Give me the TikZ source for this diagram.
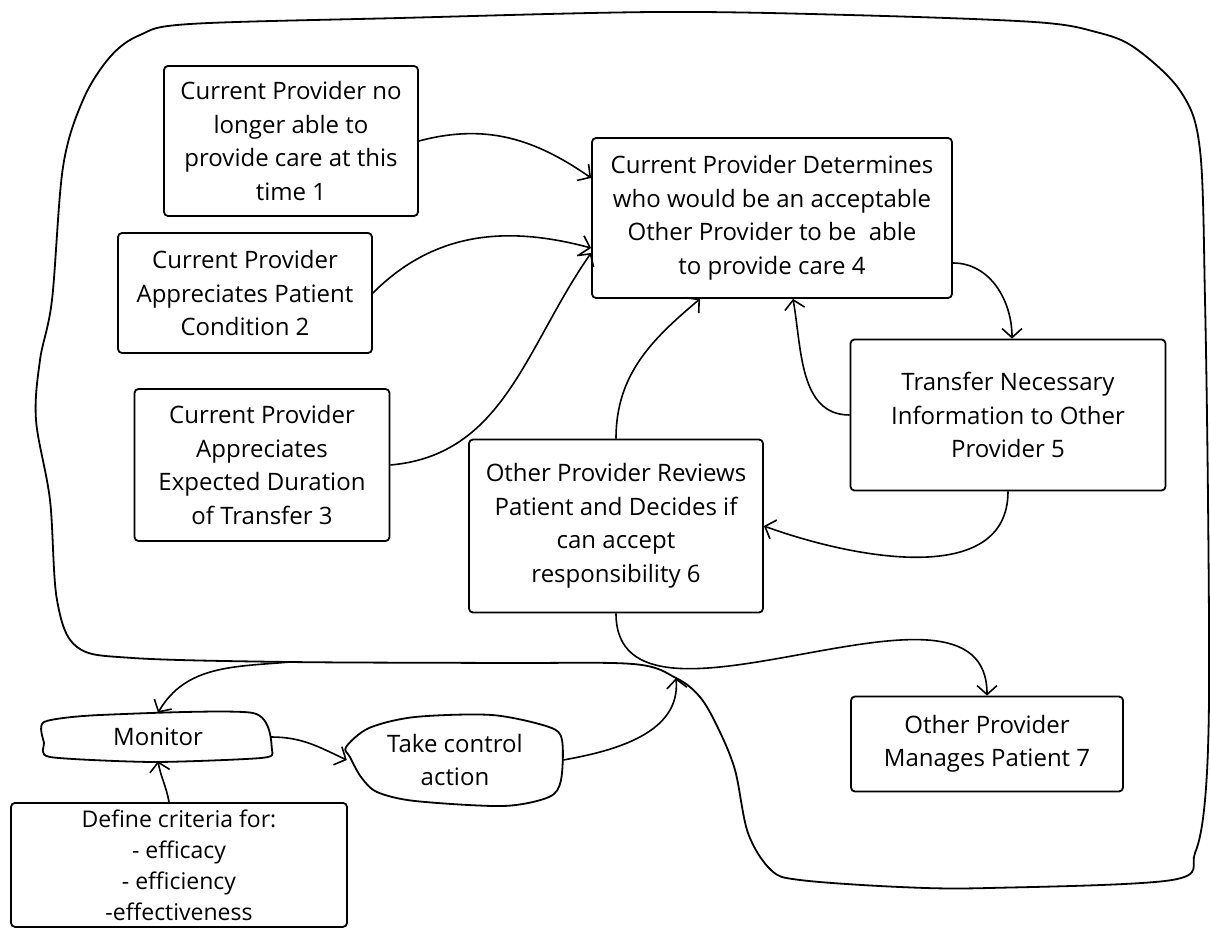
\documentclass[tikz,border=0pt]{standalone}
\usepackage{fontspec}
\setmainfont{Open Sans}
\usepackage{tikz}
\usetikzlibrary{
  arrows.meta,
  positioning,
  calc
}

\tikzset{
  stepbox/.style={draw,line width=1.8pt,rounded corners=4pt,align=center,
                  inner sep=3pt,font=\fontsize{24}{33.5}\selectfont},
  blobtext/.style={align=center,inner sep=0pt,font=\fontsize{24}{33.5}\selectfont},
  blobline/.style={line width=1.8pt,line join=round},
  flow/.style={line width=1.6pt,
               -{Straight Barb[length=9pt,width=20pt,line width=1.6pt]}}
}

\begin{document}
\begin{tikzpicture}[x=1pt,y=-1pt]
  \useasboundingbox (0,0) rectangle (1210,928);

  % control loop round the whole process
  \draw[blobline] plot[smooth cycle,tension=0.55] coordinates {
    (77,647) (57,600) (50,500) (36,420) (40,360) (52,300) (63,167) (83,100)
    (110,57) (140,35) (190,24) (400,18) (656,12) (849,15) (1034,22) (1096,32)
    (1135,48) (1181,92) (1200,150) (1205,300) (1208,500) (1209,700) (1205,800)
    (1195,853) (1172,880) (989,888) (900,887) (800,880) (771,870) (748,833)
    (735,770) (718,728) (700,697) (676,678) (633,664) (500,663) (290,662) (133,658)};
  \coordinate (loopm) at (290,662);
  \coordinate (looptc) at (676,678);

  % process steps
  \node[stepbox,minimum width=254pt,minimum height=150pt] (first) at (291,141)
    {Current Provider no\\longer able to\\provide care at this\\time 1};
  \node[stepbox,minimum width=254pt,minimum height=120pt] (second) at (245,293)
    {Current Provider\\Appreciates Patient\\Condition 2};
  \node[stepbox,minimum width=255pt,minimum height=152pt] (third) at (262,465)
    {Current Provider\\Appreciates\\Expected Duration\\of Transfer 3};
  \node[stepbox,minimum width=360pt,minimum height=160pt] (fourth) at (772,218)
    {Current Provider Determines\\who would be an acceptable\\Other Provider to be \ able\\to provide care 4};
  \node[stepbox,minimum width=315pt,minimum height=151pt] (fifth) at (1008,415)
    {Transfer Necessary\\Information to Other\\Provider 5};
  \node[stepbox,minimum width=294pt,minimum height=173pt] (sixth) at (616,526)
    {Other Provider Reviews\\Patient and Decides if\\can accept\\responsibility 6};
  \node[stepbox,minimum width=272pt,minimum height=95pt] (seventh) at (987,744)
    {Other Provider\\Manages Patient 7};

  % monitoring
  \node[blobtext,minimum width=226pt,minimum height=48pt] (monitor) at (158,737) {Monitor};
  \draw[blobline] plot[smooth cycle,tension=0.4] coordinates {
    (44,722) (100,715) (253,713) (272,750) (261,758) (153,762) (50,757) (44,743)};
  \node[blobtext,minimum width=216pt,minimum height=90pt] (action) at (455,760)
    {Take control\\action};
  \draw[blobline] plot[smooth cycle,tension=0.5] coordinates {
    (350,757) (361,777) (377,792) (415,801) (503,806) (549,797) (561,780)
    (562,740) (549,727) (492,715) (415,717) (369,728) (346,747)};
  \node[stepbox,font=\fontsize{23}{31}\selectfont,minimum width=336pt,minimum height=124pt,
        anchor=north] (criteria) at (179,802)
    {Define criteria for:\\- efficacy\\- efficiency\\-effectiveness};

  \draw[flow] (first.east) to[out=15,in=145] ([yshift=40pt]fourth.west);
  \draw[flow] (second.east) to[out=45,in=165] ([yshift=-30pt]fourth.west);
  \draw[flow] (third.east) to[out=5,in=235] ([yshift=-35pt]fourth.west);
  \draw[flow] ([yshift=-45pt]fourth.east) to[out=0,in=90] ([xshift=4pt]fifth.north);
  \draw[flow] (fifth.west) to[out=180,in=-80] ([xshift=21pt]fourth.south);
  \draw[flow] (sixth.north) to[out=90,in=220] ([xshift=-72pt]fourth.south);
  \draw[flow] (fifth.south) to[out=-90,in=-20] (sixth.east);
  \draw[flow] (sixth.south) to[out=-90,in=90] (seventh.north);
  \draw[flow] (loopm) to[out=185,in=60] (monitor.north);
  \draw[flow] (monitor.east) to[out=0,in=155] (action.west);
  \draw[flow] ([xshift=-10pt]criteria.north) to[out=100,in=-80] (monitor.south);
  \draw[flow] (action.east) to[out=10,in=-85] (looptc);
\end{tikzpicture}
\end{document}
